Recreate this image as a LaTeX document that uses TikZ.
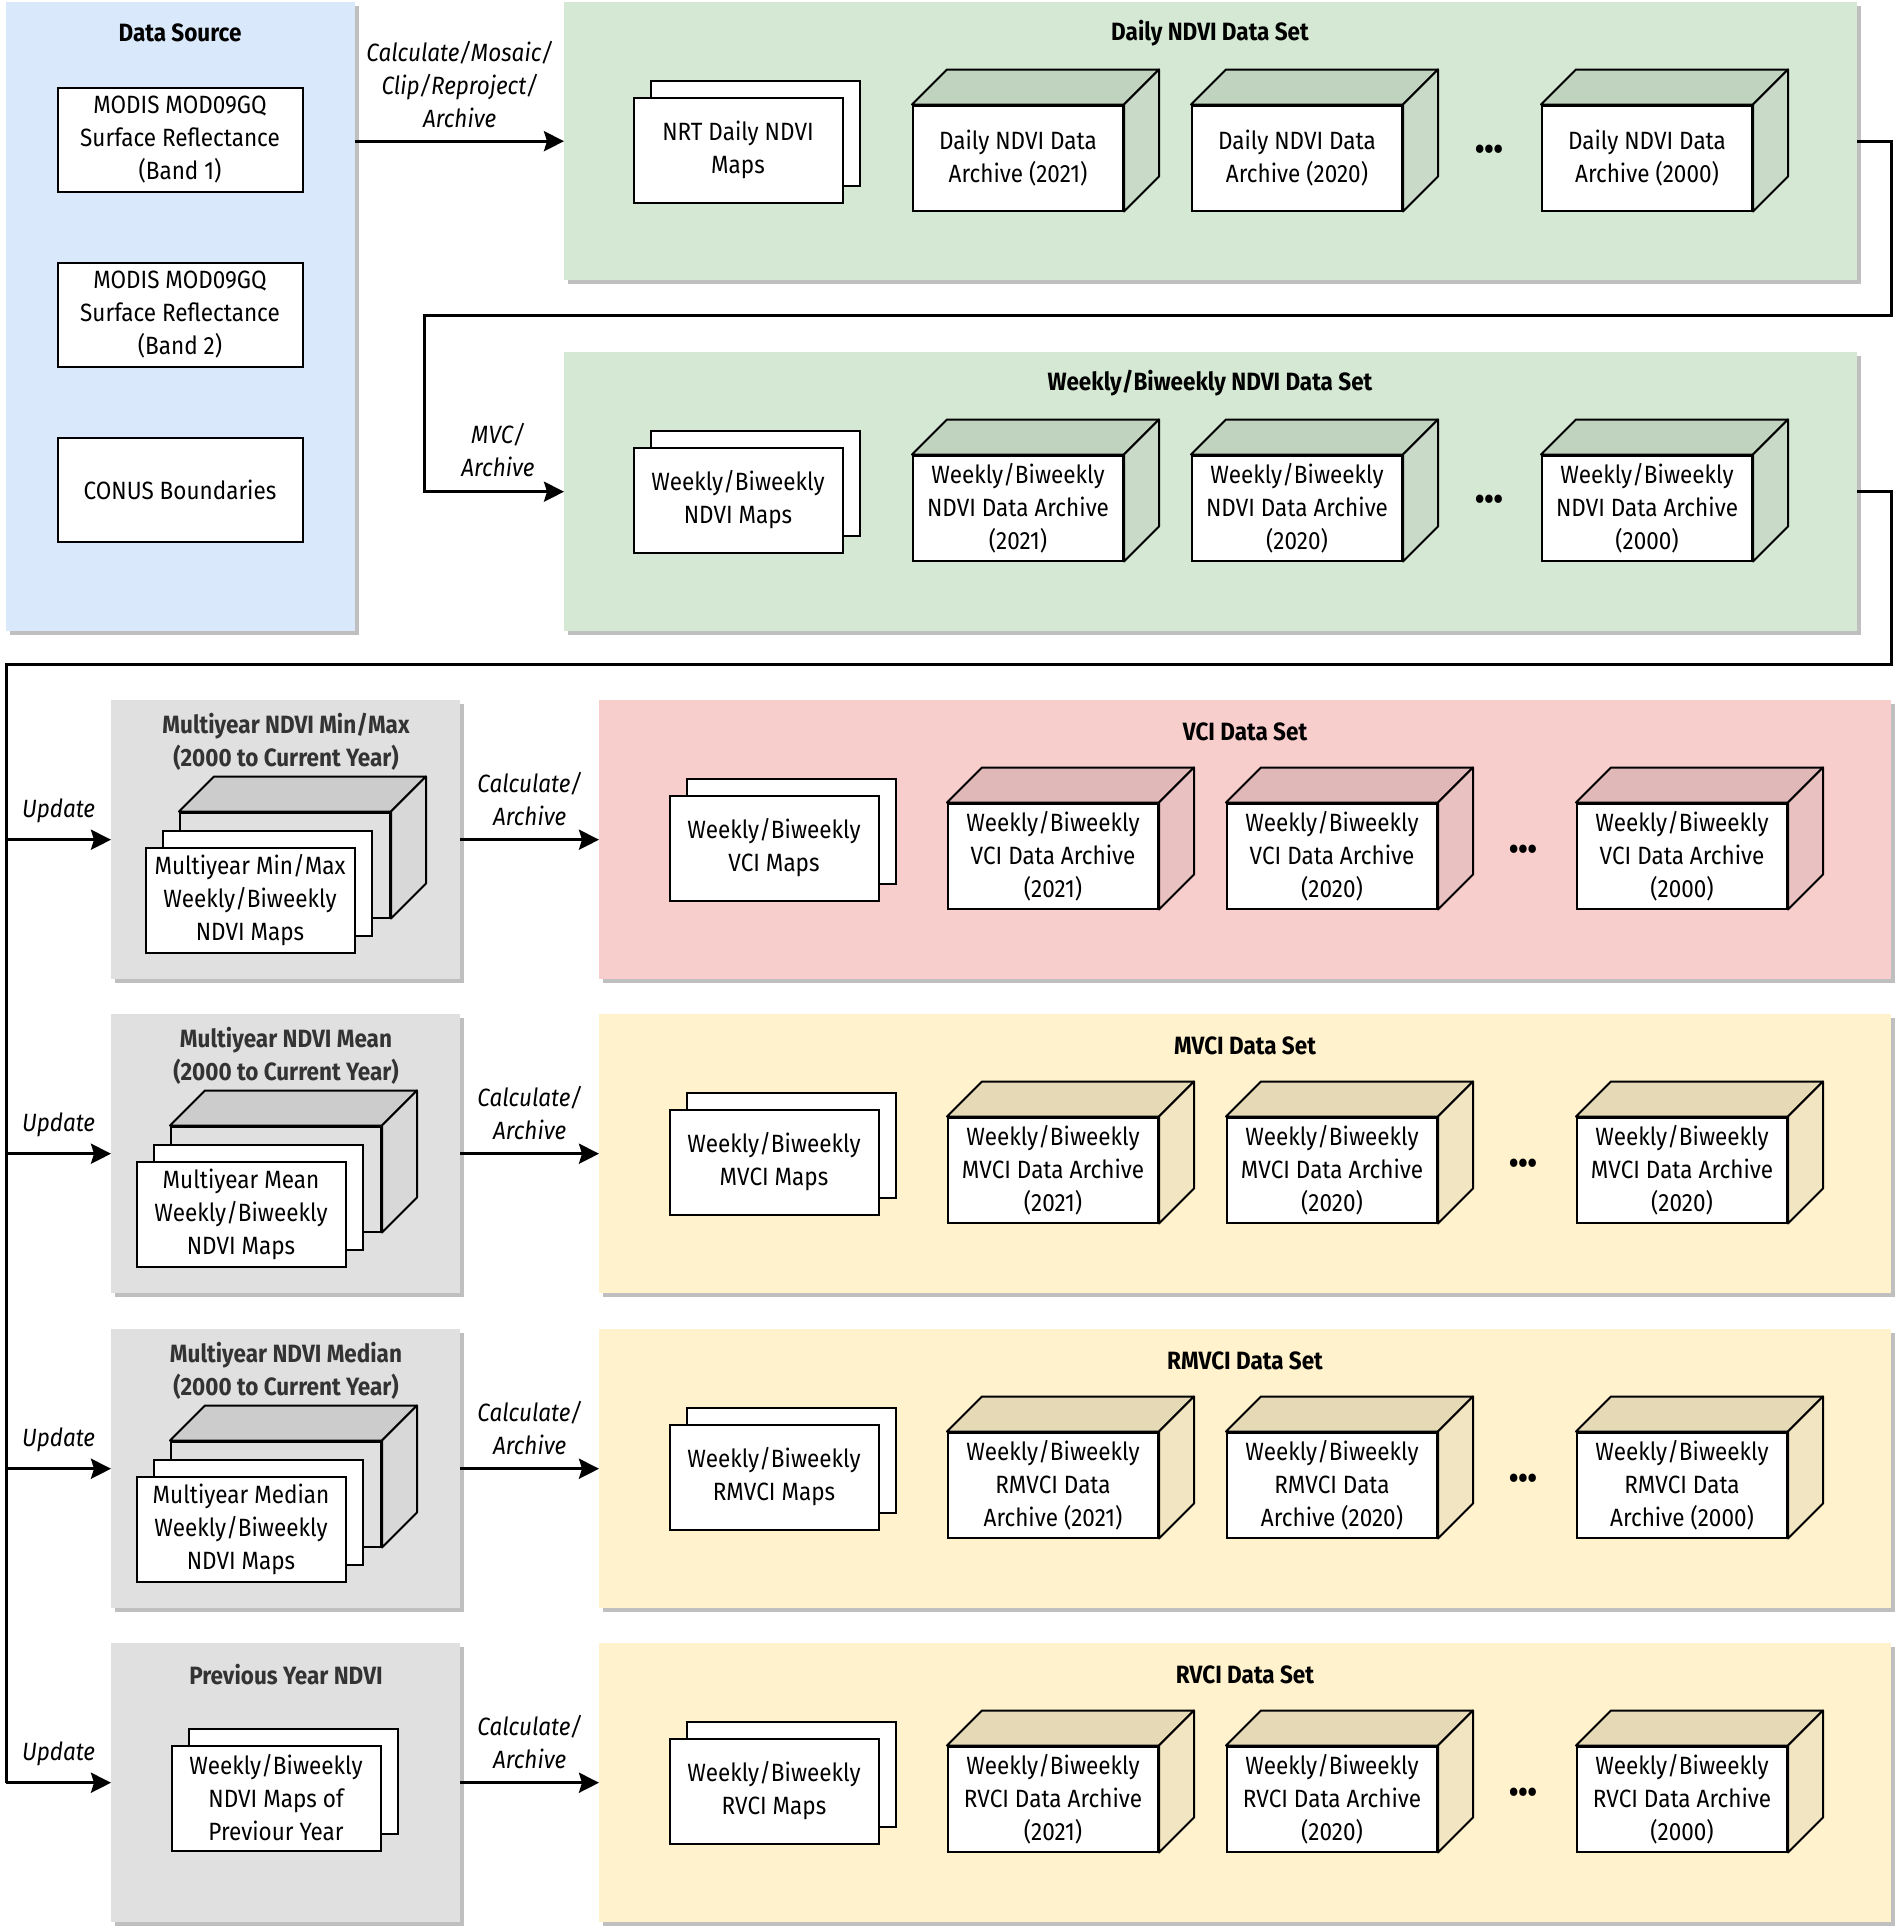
\documentclass[tikz,border=0pt]{standalone}
\usepackage{fontspec}
\setmainfont{Fira Sans}[FakeStretch=0.9]
\usetikzlibrary{arrows.meta,positioning,calc,shadows}
\definecolor{srcblue}{HTML}{DAE8FC}
\definecolor{ndvigreen}{HTML}{D5E8D4}
\definecolor{ndvigreentop}{RGB}{192,211,191}
\definecolor{ndvigreenside}{RGB}{201,219,200}
\definecolor{vcired}{HTML}{F8CECC}
\definecolor{vciredtop}{RGB}{224,184,184}
\definecolor{vciredside}{RGB}{234,193,193}
\definecolor{mvciyellow}{HTML}{FFF2CC}
\definecolor{mvciyellowtop}{RGB}{230,218,182}
\definecolor{mvciyellowside}{RGB}{242,229,193}
\definecolor{multigray}{RGB}{224,224,224}
\definecolor{multigraytop}{RGB}{204,204,204}
\definecolor{multigrayside}{RGB}{216,216,216}
\definecolor{titlegray}{RGB}{51,51,51}

% archive cube: front face node plus top and side faces
\newcommand{\archivecube}[5][]{%
  \node[cubefront,#1] (#2) at (#3) {#4};
  \draw[cubeface,fill=#5top] (#2.north west) -- ++(35,-35) -- ($(#2.north east)+(35,-35)$) -- (#2.north east) -- cycle;
  \draw[cubeface,fill=#5side] (#2.north east) -- ++(35,-35) -- ($(#2.south east)+(35,-35)$) -- (#2.south east) -- cycle;
}

\begin{document}
\begin{tikzpicture}[
  x=1pt, y=-1pt,
  every node/.style={font=\fontsize{25}{33}\selectfont},
  panel/.style={rectangle, anchor=north west, inner sep=0pt, minimum height=279pt, drop shadow={shadow xshift=4pt, shadow yshift=-4pt, fill=black!25, opacity=1}},
  ptitle/.style={font=\fontsize{25}{33}\selectfont\bfseries, align=center},
  box/.style={rectangle, draw=black, fill=white, line width=2pt, minimum width=245pt, minimum height=104pt, align=center, inner sep=2pt},
  mapsheet/.style={box, minimum width=209pt, minimum height=105pt, copy shadow={shadow xshift=17pt, shadow yshift=17pt, draw=black, fill=white, line width=2pt}},
  cubefront/.style={box, minimum width=210pt, minimum height=105pt},
  cubeface/.style={draw=black, line width=2pt, line join=round},
  dots/.style={font=\fontsize{30}{30}\selectfont\bfseries, inner sep=0pt},
  flow/.style={-{Stealth[length=20pt,width=20pt,inset=3pt]}, line width=3pt},
  flowlabel/.style={font=\fontsize{25}{33}\selectfont\itshape, align=center}
]
\useasboundingbox (0,0) rectangle (1900,1928);

% Data source column
\node[panel, fill=srcblue, minimum width=349pt, minimum height=629pt] (src) at (6,2) {};
\node[ptitle] (srcT) at (180,33) {Data Source};
\node[box] (band1) at (180,140) {MODIS MOD09GQ\\Surface Reflectance\\(Band 1)};
\node[box] (band2) at (180,315) {MODIS MOD09GQ\\Surface Reflectance\\(Band 2)};
\node[box] (conus) at (180,490) {CONUS Boundaries};

% Daily NDVI data set
\node[panel, fill=ndvigreen, minimum width=1293pt, minimum height=278pt] (daily) at (564,2) {};
\node[ptitle] (dailyT) at (1210,33) {Daily NDVI Data Set};
\node[mapsheet] (dailyMap) at (738,150) {NRT Daily NDVI\\Maps};
\archivecube{daily21}{1018,158}{Daily NDVI Data\\Archive (2021)}{ndvigreen}
\archivecube{daily20}{1297,158}{Daily NDVI Data\\Archive (2020)}{ndvigreen}
\archivecube{daily00}{1647,158}{Daily NDVI Data\\Archive (2000)}{ndvigreen}
\node[dots] (dailyDots) at (1489,152) {•••};

% Weekly/Biweekly NDVI data set
\node[panel, fill=ndvigreen, minimum width=1293pt] (weekly) at (564,352) {};
\node[ptitle] (weeklyT) at (1210,383) {Weekly/Biweekly NDVI Data Set};
\node[mapsheet] (weeklyMap) at (738,500) {Weekly/Biweekly\\NDVI Maps};
\archivecube{weekly21}{1018,508}{Weekly/Biweekly\\NDVI Data Archive\\(2021)}{ndvigreen}
\archivecube{weekly20}{1297,508}{Weekly/Biweekly\\NDVI Data Archive\\(2020)}{ndvigreen}
\archivecube{weekly00}{1647,508}{Weekly/Biweekly\\NDVI Data Archive\\(2000)}{ndvigreen}
\node[dots] (weeklyDots) at (1489,502) {•••};

% Row 1: Min/Max -> VCI
\node[panel, fill=multigray, minimum width=349pt] (minmax) at (111,700) {};
\node[ptitle, text=titlegray] (minmaxT) at (286,742) {Multiyear NDVI Min/Max\\(2000 to Current Year)};
\archivecube[fill=multigray]{minmaxCube}{285,865}{}{multigray}
\node[mapsheet] (minmaxMap) at (250,900) {Multiyear Min/Max\\Weekly/Biweekly\\NDVI Maps};
\node[panel, fill=vcired, minimum width=1292pt] (vci) at (599,700) {};
\node[ptitle] (vciT) at (1245,732) {VCI Data Set};
\node[mapsheet] (vciMap) at (774,848) {Weekly/Biweekly\\VCI Maps};
\archivecube{vci21}{1053,856}{Weekly/Biweekly\\VCI Data Archive\\(2021)}{vcired}
\archivecube{vci20}{1332,856}{Weekly/Biweekly\\VCI Data Archive\\(2020)}{vcired}
\archivecube{vci00}{1682,856}{Weekly/Biweekly\\VCI Data Archive\\(2000)}{vcired}
\node[dots] (vciDots) at (1523,852) {•••};

% Row 2: Mean -> MVCI
\node[panel, fill=multigray, minimum width=349pt] (mean) at (111,1014) {};
\node[ptitle, text=titlegray] (meanT) at (286,1056) {Multiyear NDVI Mean\\(2000 to Current Year)};
\archivecube[fill=multigray]{meanCube}{276,1179}{}{multigray}
\node[mapsheet] (meanMap) at (241,1214) {Multiyear Mean\\Weekly/Biweekly\\NDVI Maps};
\node[panel, fill=mvciyellow, minimum width=1292pt] (mvci) at (599,1014) {};
\node[ptitle] (mvciT) at (1245,1046) {MVCI Data Set};
\node[mapsheet] (mvciMap) at (774,1162) {Weekly/Biweekly\\MVCI Maps};
\archivecube{mvci21}{1053,1170}{Weekly/Biweekly\\MVCI Data Archive\\(2021)}{mvciyellow}
\archivecube{mvci20}{1332,1170}{Weekly/Biweekly\\MVCI Data Archive\\(2020)}{mvciyellow}
\archivecube{mvci00}{1682,1170}{Weekly/Biweekly\\MVCI Data Archive\\(2020)}{mvciyellow}
\node[dots] (mvciDots) at (1523,1166) {•••};

% Row 3: Median -> RMVCI
\node[panel, fill=multigray, minimum width=349pt] (median) at (111,1329) {};
\node[ptitle, text=titlegray] (medianT) at (286,1371) {Multiyear NDVI Median\\(2000 to Current Year)};
\archivecube[fill=multigray]{medianCube}{276,1494}{}{multigray}
\node[mapsheet] (medianMap) at (241,1529) {Multiyear Median\\Weekly/Biweekly\\NDVI Maps};
\node[panel, fill=mvciyellow, minimum width=1292pt] (rmvci) at (599,1329) {};
\node[ptitle] (rmvciT) at (1245,1361) {RMVCI Data Set};
\node[mapsheet] (rmvciMap) at (774,1477) {Weekly/Biweekly\\RMVCI Maps};
\archivecube{rmvci21}{1053,1485}{Weekly/Biweekly\\RMVCI Data\\Archive (2021)}{mvciyellow}
\archivecube{rmvci20}{1332,1485}{Weekly/Biweekly\\RMVCI Data\\Archive (2020)}{mvciyellow}
\archivecube{rmvci00}{1682,1485}{Weekly/Biweekly\\RMVCI Data\\Archive (2000)}{mvciyellow}
\node[dots] (rmvciDots) at (1523,1481) {•••};

% Row 4: Previous year -> RVCI
\node[panel, fill=multigray, minimum width=349pt] (prev) at (111,1643) {};
\node[ptitle, text=titlegray] (prevT) at (286,1675) {Previous Year NDVI};
\node[mapsheet] (prevMap) at (276,1798) {Weekly/Biweekly\\NDVI Maps of\\Previour Year};
\node[panel, fill=mvciyellow, minimum width=1292pt] (rvci) at (599,1643) {};
\node[ptitle] (rvciT) at (1245,1675) {RVCI Data Set};
\node[mapsheet] (rvciMap) at (774,1791) {Weekly/Biweekly\\RVCI Maps};
\archivecube{rvci21}{1053,1799}{Weekly/Biweekly\\RVCI Data Archive\\(2021)}{mvciyellow}
\archivecube{rvci20}{1332,1799}{Weekly/Biweekly\\RVCI Data Archive\\(2020)}{mvciyellow}
\archivecube{rvci00}{1682,1799}{Weekly/Biweekly\\RVCI Data Archive\\(2000)}{mvciyellow}
\node[dots] (rvciDots) at (1523,1795) {•••};

% Connections
\draw[flow] (daily.west -| src.east) -- node[flowlabel, above=9pt]{Calculate/Mosaic/\\Clip/Reproject/\\Archive} (daily.west);

\coordinate (dailyTurn) at (1891,315);
\coordinate (weeklyTurn) at (424,315);
\draw[flow] (daily.east) -| (dailyTurn) -- (weeklyTurn) |- (weekly.west);
\node[flowlabel] (mvcL) at (498,450) {MVC/\\Archive};

\coordinate (trunkTurn) at (1891,664);
\coordinate (trunk) at (6,664);
\draw[line width=3pt] (weekly.east) -| (trunkTurn) -- (trunk) -- (trunk |- prev.west);

\draw[flow] (trunk |- minmax.west) -- node[flowlabel, above=12pt]{Update} (minmax.west);
\draw[flow] (trunk |- mean.west) -- node[flowlabel, above=12pt]{Update} (mean.west);
\draw[flow] (trunk |- median.west) -- node[flowlabel, above=12pt]{Update} (median.west);
\draw[flow] (trunk |- prev.west) -- node[flowlabel, above=12pt]{Update} (prev.west);

\draw[flow] (minmax.east) -- node[flowlabel, above=9pt]{Calculate/\\Archive} (vci.west);
\draw[flow] (mean.east) -- node[flowlabel, above=9pt]{Calculate/\\Archive} (mvci.west);
\draw[flow] (median.east) -- node[flowlabel, above=9pt]{Calculate/\\Archive} (rmvci.west);
\draw[flow] (prev.east) -- node[flowlabel, above=9pt]{Calculate/\\Archive} (rvci.west);

\end{tikzpicture}
\end{document}
